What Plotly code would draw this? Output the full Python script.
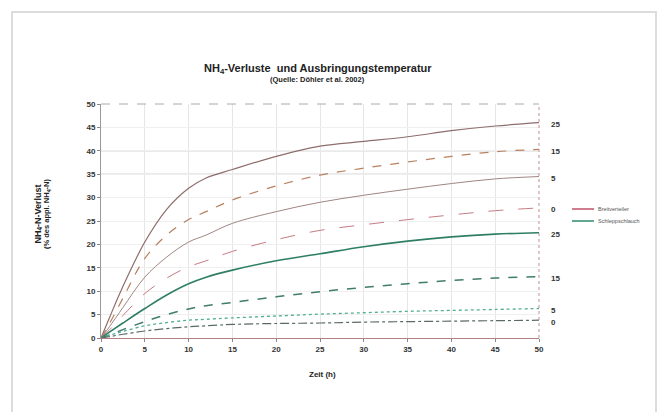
import plotly.graph_objects as go

zeit = [0, 1, 2.5, 5, 7.5, 10, 12, 15, 20, 25, 30, 35, 40, 45, 50]

breit_25 = [0, 4.5, 11, 20.5, 27.5, 32, 34.2, 36, 38.8, 41, 42, 43, 44.3, 45.3, 46]
breit_15 = [0, 3.2, 8.5, 17, 22, 25.3, 27, 29.5, 32.5, 34.8, 36.3, 37.6, 38.8, 39.8, 40.3]
breit_5 = [0, 2.5, 6.5, 13, 17.3, 20.5, 22, 24.5, 27, 29, 30.5, 31.8, 33, 34, 34.5]
breit_0 = [0, 1.8, 4.8, 9.5, 12.8, 15.2, 16.5, 18.5, 21, 23, 24.2, 25.3, 26.3, 27.2, 27.8]
schlepp_25 = [0, 1.3, 3.2, 6.3, 9.2, 11.6, 13, 14.5, 16.5, 18, 19.5, 20.7, 21.6, 22.2, 22.5]
schlepp_15 = [0, 0.7, 1.8, 3.5, 5, 6.2, 6.9, 7.6, 8.8, 9.9, 10.8, 11.6, 12.3, 12.8, 13.1]
schlepp_5 = [0, 0.6, 1.4, 2.6, 3.3, 3.8, 4.0, 4.3, 4.7, 5.1, 5.4, 5.7, 5.9, 6.1, 6.3]
schlepp_0 = [0, 0.3, 0.8, 1.5, 2.0, 2.4, 2.6, 2.9, 3.1, 3.2, 3.4, 3.5, 3.6, 3.7, 3.8]

temp_labels = ["25", "15", "5", "0"]
legend_names = ["Breitverteiler", "Schleppschlauch"]
ref_lines = [35, 40]

FONT = "Liberation Sans"

series = [
    (breit_25, "#8e6e6c", "solid", 1.2),
    (breit_15, "#b8805e", "dash", 1.2),
    (breit_5, "#a08682", "solid", 1.0),
    (breit_0, "#c47c84", "longdash", 1.0),
    (schlepp_25, "#2f7e66", "solid", 1.6),
    (schlepp_15, "#3f7c6c", "dash", 1.5),
    (schlepp_5, "#52ae94", "dot", 1.3),
    (schlepp_0, "#5a6a68", "dashdot", 1.2),
]

fig = go.Figure()
for vals, col, dash, w in series:
    fig.add_trace(go.Scatter(x=zeit, y=vals, mode="lines", showlegend=False,
                             line=dict(color=col, dash=dash, width=w, shape="spline"),
                             hoverinfo="skip"))

# horizontal reference lines
for v in ref_lines:
    fig.add_hline(y=v, line=dict(color="#b8b8b8", width=1), layer="below")

# end labels
for i, (vals, col, dash, w) in enumerate(series):
    fig.add_annotation(x=zeit[-1], y=vals[-1], xref="x", yref="y",
                       text="<b>%s</b>" % temp_labels[i % 4], showarrow=False,
                       xanchor="left", xshift=10, yshift=-2,
                       font=dict(family=FONT, size=8, color="#333"))

# legend (custom)
for j, (name, col) in enumerate(zip(legend_names, ["#c0506a", "#2c8a6c"])):
    yy = (338 - (209 + 12 * j)) / 234
    fig.add_shape(type="line", xref="paper", yref="paper",
                  x0=(572 - 101) / 438, x1=(594 - 101) / 438, y0=yy, y1=yy,
                  line=dict(color=col, width=1.5))
    fig.add_annotation(xref="paper", yref="paper", x=(596 - 101) / 438, y=yy,
                       text=name, showarrow=False, xanchor="left",
                       font=dict(family=FONT, size=5.5, color="#555"))

# outer frame
fig.add_shape(type="rect", xref="paper", yref="paper",
              x0=(12 - 101) / 438, x1=(656 - 101) / 438,
              y0=(338 - 430) / 234, y1=(338 - 12) / 234,
              line=dict(color="#dcdcdc", width=2), layer="below")
# top and right dashed border
fig.add_shape(type="line", xref="paper", yref="paper", x0=0, x1=1, y0=1, y1=1,
              line=dict(color="#aaaaaa", width=1, dash="dash"))
fig.add_shape(type="line", xref="paper", yref="paper", x0=1, x1=1, y0=0, y1=1,
              line=dict(color="#c09090", width=1, dash="dot"))

# title
fig.add_annotation(xref="paper", yref="paper", x=0.495, y=(338 - 60) / 234,
                   text="<b>NH<sub>4</sub>-Verluste  und Ausbringungstemperatur</b>",
                   showarrow=False, font=dict(family=FONT, size=11, color="#222"))
fig.add_annotation(xref="paper", yref="paper", x=0.495, y=(338 - 73) / 234,
                   text="<b>(Quelle: Döhler et al. 2002)</b>",
                   showarrow=False, font=dict(family=FONT, size=7.5, color="#222"))
# x title
fig.add_annotation(xref="paper", yref="paper", x=(322 - 101) / 438, y=(338 - 381) / 234,
                   text="<b>Zeit (h)</b>", showarrow=False,
                   font=dict(family=FONT, size=8, color="#222"))
# y title (two lines)
fig.add_annotation(xref="paper", yref="paper", x=(30 - 101) / 438, y=(338 - 214) / 234,
                   text="<b>NH<sub>4</sub>-N-Verlust</b>",
                   showarrow=False, textangle=-90,
                   font=dict(family=FONT, size=9, color="#222"))
fig.add_annotation(xref="paper", yref="paper", x=(40 - 101) / 438, y=(338 - 214) / 234,
                   text="<b>(% des appl. NH<sub>4</sub>-N)</b>",
                   showarrow=False, textangle=-90,
                   font=dict(family=FONT, size=7.5, color="#222"))

fig.update_layout(
    width=658, height=412,
    margin=dict(l=101, r=119, t=104, b=74),
    paper_bgcolor="white", plot_bgcolor="white",
    showlegend=False, hovermode=False,
)
fig.update_xaxes(range=[0, 50], tickvals=list(range(0, 51, 5)), ticks="outside",
                 ticklen=3, tickcolor="#888", showline=True, linecolor="#b08080",
                 linewidth=1, showgrid=True, gridcolor="#e6e6e6",
                 zeroline=False, tickfont=dict(family=FONT, size=8, color="#333", weight="bold"))
fig.update_yaxes(range=[0, 50], tickvals=list(range(0, 51, 5)), ticks="outside",
                 ticklen=3, tickcolor="#888", showline=True, linecolor="#999",
                 linewidth=1, showgrid=True, gridcolor="#efefef",
                 zeroline=False, tickfont=dict(family=FONT, size=8, color="#333", weight="bold"))

fig.write_html("out.html", config={"displayModeBar": False},
               post_script="document.body.style.margin='0';document.body.style.overflow='hidden';")
